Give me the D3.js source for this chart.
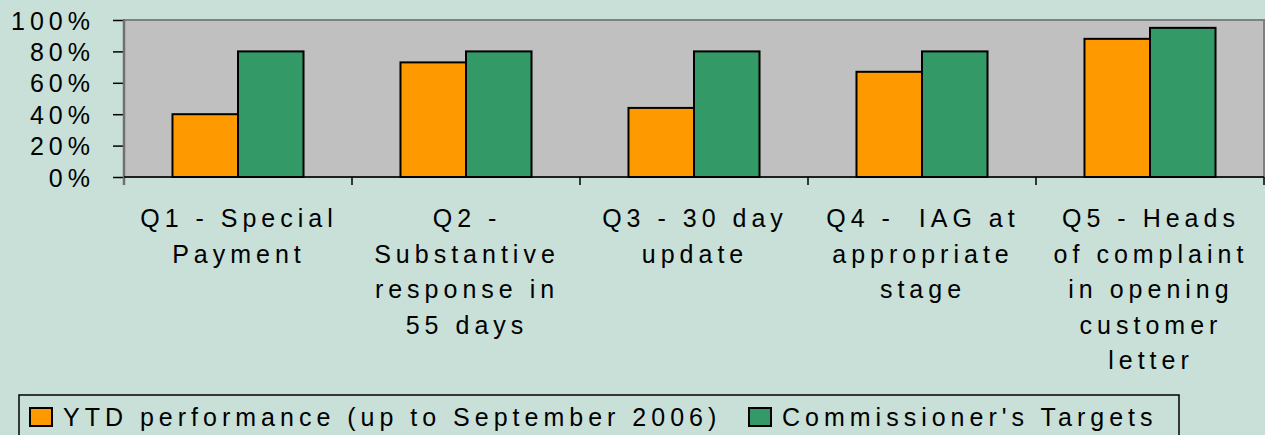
<!DOCTYPE html>
<html>
<head>
<meta charset="utf-8">
<script src="https://cdn.jsdelivr.net/npm/d3@7"></script>
<style>
  html, body { margin: 0; padding: 0; background: #c8e0d8; }
  svg { display: block; }
  text { font-family: "Liberation Sans", Arial, sans-serif; fill: #000; }
</style>
</head>
<body>
<svg id="chart" width="1265" height="435"></svg>
<script>
const categories = [
  ["Q1 - Special", "Payment"],
  ["Q2 -", "Substantive", "response in", "55 days"],
  ["Q3 - 30 day", "update"],
  ["Q4 -  IAG at", "appropriate", "stage"],
  ["Q5 - Heads", "of complaint", "in opening", "customer", "letter"]
];
const seriesNames = ["YTD performance (up to September 2006)", "Commissioner's Targets"];
const ytdValues = [0.40, 0.73, 0.44, 0.67, 0.88];
const targetValues = [0.80, 0.80, 0.80, 0.80, 0.95];
const yTicks = [0, 0.2, 0.4, 0.6, 0.8, 1.0];
const colors = ["#ff9900", "#339966"];

const svg = d3.select("#chart");
const plot = { left: 124, right: 1264, top: 20, bottom: 177 };

const x = d3.scaleBand().domain(d3.range(categories.length)).range([plot.left, plot.right]).padding(0);
const xSub = d3.scaleBand().domain([0, 1]).range([0, x.bandwidth()]).paddingInner(0).paddingOuter(0.74);
const y = d3.scaleLinear().domain([0, 1]).range([plot.bottom, plot.top]);

// plot area
svg.append("rect")
  .attr("x", plot.left).attr("y", plot.top)
  .attr("width", plot.right - plot.left).attr("height", plot.bottom - plot.top)
  .attr("fill", "#c0c0c0").attr("stroke", "#808080").attr("stroke-width", 2);

// bars
const data = categories.map((c, i) => ({ i, vals: [ytdValues[i], targetValues[i]] }));
const g = svg.append("g");
data.forEach(d => {
  d.vals.forEach((v, s) => {
    g.append("rect")
      .attr("x", x(d.i) + xSub(s))
      .attr("y", y(v))
      .attr("width", xSub.bandwidth())
      .attr("height", y(0) - y(v))
      .attr("fill", colors[s])
      .attr("stroke", "#000")
      .attr("stroke-width", 2);
  });
});

// y axis
const yAxis = svg.append("g")
  .attr("transform", `translate(${plot.left},0)`)
  .call(d3.axisLeft(y).tickValues(yTicks).tickFormat(d3.format(".0%")).tickSize(11).tickPadding(18));
yAxis.select(".domain").remove();
yAxis.selectAll(".tick line").attr("stroke", "#000").attr("stroke-width", 1.5);
yAxis.selectAll("text")
  .style("font-family", "'Liberation Sans', Arial, sans-serif")
  .style("font-size", "25px")
  .style("letter-spacing", "5px")
  .attr("dy", "0.36em");

svg.append("line")
  .attr("x1", plot.left).attr("x2", plot.left)
  .attr("y1", plot.top).attr("y2", plot.bottom + 8)
  .attr("stroke", "#707070").attr("stroke-width", 2.5);

// x axis
svg.append("line")
  .attr("x1", plot.left).attr("x2", plot.right)
  .attr("y1", plot.bottom).attr("y2", plot.bottom)
  .attr("stroke", "#000").attr("stroke-width", 1.5);
const boundaries = d3.range(1, categories.length + 1).map(i => i < categories.length ? x(i) : plot.right);
svg.selectAll(".cattick").data(boundaries).enter().append("line")
  .attr("x1", d => d).attr("x2", d => d)
  .attr("y1", plot.bottom).attr("y2", plot.bottom + 8)
  .attr("stroke", "#000").attr("stroke-width", 1.5);

// category labels
const lineH = 35.5;
categories.forEach((lines, i) => {
  const t = svg.append("text")
    .attr("text-anchor", "middle")
    .style("font-size", "25px")
    .style("letter-spacing", "5px");
  lines.forEach((ln, k) => {
    t.append("tspan")
      .attr("x", x(i) + x.bandwidth() / 2 + 1)
      .attr("y", 227 + k * lineH)
      .attr("xml:space", "preserve")
      .text(ln);
  });
});

// legend
svg.append("rect")
  .attr("x", 19).attr("y", 395).attr("width", 1160).attr("height", 60)
  .attr("fill", "none").attr("stroke", "#000").attr("stroke-width", 1.5);
const legendX = [30, 749];
seriesNames.forEach((name, s) => {
  svg.append("rect")
    .attr("x", legendX[s]).attr("y", 408).attr("width", 22).attr("height", 18)
    .attr("fill", colors[s]).attr("stroke", "#000").attr("stroke-width", 2);
  svg.append("text")
    .attr("x", legendX[s] + 33).attr("y", 426)
    .style("font-size", "25px")
    .style("letter-spacing", "5px")
    .text(name);
});
</script>
</body>
</html>
